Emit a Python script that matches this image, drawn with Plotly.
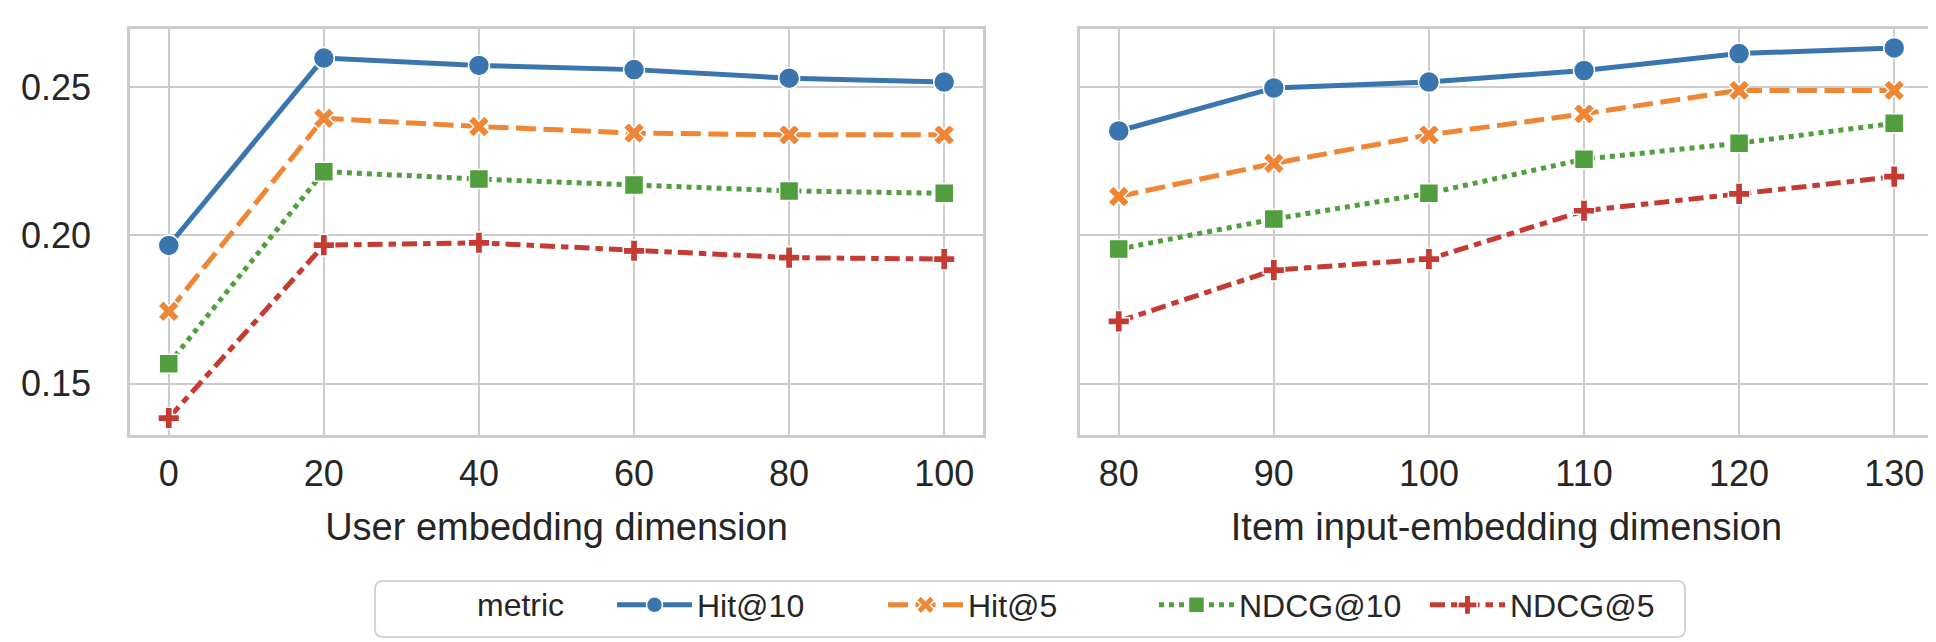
import plotly.graph_objects as go

# x values of the two panels
user_dim = [0, 20, 40, 60, 80, 100]
item_dim = [80, 90, 100, 110, 120, 130]
metrics = ["Hit@10", "Hit@5", "NDCG@10", "NDCG@5"]

# left panel: user embedding dimension
user_hit10 = [0.1966, 0.2598, 0.2573, 0.2559, 0.2530, 0.2517]
user_hit5 = [0.1744, 0.2395, 0.2367, 0.2345, 0.2339, 0.2339]
user_ndcg10 = [0.1567, 0.2215, 0.2190, 0.2170, 0.2150, 0.2142]
user_ndcg5 = [0.1384, 0.1967, 0.1975, 0.1948, 0.1925, 0.1920]

# right panel: item input-embedding dimension
item_hit10 = [0.2352, 0.2497, 0.2517, 0.2556, 0.2613, 0.2632]
item_hit5 = [0.2131, 0.2243, 0.2339, 0.2410, 0.2489, 0.2489]
item_ndcg10 = [0.1954, 0.2055, 0.2142, 0.2257, 0.2311, 0.2378]
item_ndcg5 = [0.1710, 0.1883, 0.1920, 0.2083, 0.2140, 0.2198]

y_ticks = [0.15, 0.20, 0.25]

colors = ["#3a75af", "#ef8636", "#519e3e", "#c53a32"]
dashes = ["solid", "20px,7.5px", "5px,5px", "15px,6px,7.5px,6px"]
symbols = ["circle", "x", "square", "cross"]
sizes = [21, 19, 19, 18]

FONT = "Arial, Liberation Sans, sans-serif"
TXT = "#262626"
GRID = "#cccccc"

user_series = [user_hit10, user_hit5, user_ndcg10, user_ndcg5]
item_series = [item_hit10, item_hit5, item_ndcg10, item_ndcg5]

fig = go.Figure()

for i, name in enumerate(metrics):
    style = dict(
        mode="lines+markers",
        name=name,
        legendgroup=name,
        line=dict(color=colors[i], width=5, dash=dashes[i]),
        marker=dict(symbol=symbols[i], size=sizes[i], color=colors[i],
                    line=dict(color="white", width=1.5)),
    )
    fig.add_trace(go.Scatter(x=user_dim, y=user_series[i], xaxis="x", yaxis="y",
                             showlegend=True, **style))
    fig.add_trace(go.Scatter(x=item_dim, y=item_series[i], xaxis="x2", yaxis="y2",
                             showlegend=False, **style))

axis_common = dict(
    showgrid=True, gridcolor=GRID, gridwidth=2,
    showline=True, mirror=True, linecolor=GRID, linewidth=2.5,
    zeroline=False,
    ticks="outside", tickcolor="rgba(0,0,0,0)",
    tickfont=dict(size=36, color=TXT, family=FONT),
)
x_title = dict(size=38, color=TXT)

legend_y = 0.07

fig.update_layout(
    width=1936, height=642,
    margin=dict(l=0, r=0, t=0, b=0),
    paper_bgcolor="white", plot_bgcolor="white",
    font=dict(family=FONT, color=TXT),
    xaxis=dict(domain=[0.063, 0.5036], range=[-5, 105], tickvals=user_dim,
               ticklen=5,
               title=dict(text="User embedding dimension", font=x_title, standoff=21),
               anchor="y", **axis_common),
    xaxis2=dict(domain=[0.5537, 0.9943], range=[77.5, 132.5], tickvals=item_dim,
                ticklen=5,
                title=dict(text="Item input-embedding dimension", font=x_title,
                           standoff=21),
                anchor="y2", **axis_common),
    yaxis=dict(domain=[0.3354, 0.9673], range=[0.1328, 0.2696], tickvals=y_ticks,
               tickformat=".2f", ticklen=29, anchor="x", **axis_common),
    yaxis2=dict(domain=[0.3354, 0.9673], matches="y", tickvals=y_ticks,
                showticklabels=False, ticklen=29, anchor="x2", **axis_common),
    legend=dict(
        orientation="h", x=604 / 1936, xanchor="left", y=legend_y, yanchor="middle",
        font=dict(size=32, color=TXT),
        borderwidth=0, bgcolor="rgba(0,0,0,0)",
        entrywidth=181, itemwidth=75,
    ),
)

# legend title, drawn at the left of the entries
fig.add_annotation(text="metric", xref="paper", yref="paper", x=467 / 1936, y=legend_y,
                   xanchor="left", yanchor="middle", showarrow=False,
                   font=dict(size=32, color=TXT))

# rounded frame around the legend
bx0, bx1 = 367 / 1936, 1677 / 1936
by0, by1 = (642 - 629) / 642, (642 - 573) / 642
rx, ry = 8 / 1936, 8 / 642
frame_path = (
    f"M {bx0 + rx},{by0} L {bx1 - rx},{by0} Q {bx1},{by0} {bx1},{by0 + ry} "
    f"L {bx1},{by1 - ry} Q {bx1},{by1} {bx1 - rx},{by1} "
    f"L {bx0 + rx},{by1} Q {bx0},{by1} {bx0},{by1 - ry} "
    f"L {bx0},{by0 + ry} Q {bx0},{by0} {bx0 + rx},{by0} Z"
)
fig.add_shape(type="path", path=frame_path, xref="paper", yref="paper",
              line=dict(color="#d5d5d5", width=2), fillcolor="white", layer="below")

fig.write_html("out.html")
